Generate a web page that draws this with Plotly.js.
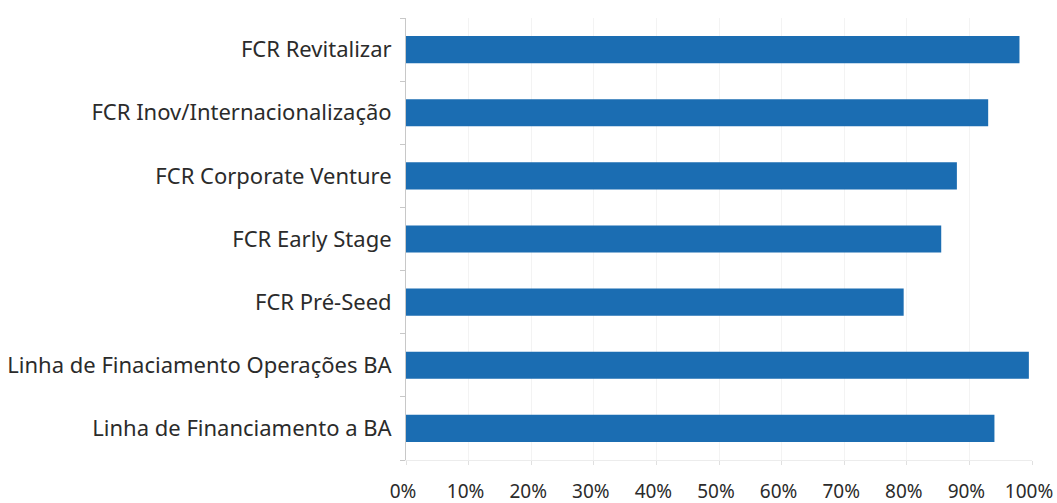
<!DOCTYPE html>
<html>
<head>
<meta charset="utf-8">
<script src="https://cdn.plot.ly/plotly-3.0.1.min.js"></script>
<style>html,body{margin:0;padding:0;background:#fff;}#chart{width:1057px;height:503px;}</style>
</head>
<body>
<div id="chart"></div>
<script>
const categories = [
  "Linha de Financiamento a BA",
  "Linha de Finaciamento Operações BA",
  "FCR Pré-Seed",
  "FCR Early Stage",
  "FCR Corporate Venture",
  "FCR Inov/Internacionalização",
  "FCR Revitalizar"
];
const values = [0.94, 0.995, 0.795, 0.855, 0.88, 0.93, 0.98];
const tickVals = [0, 0.1, 0.2, 0.3, 0.4, 0.5, 0.6, 0.7, 0.8, 0.9, 1.0];
const tickLabels = ["0%", "10%", "20%", "30%", "40%", "50%", "60%", "70%", "80%", "90%", "100%"];

const trace = {
  type: "bar",
  orientation: "h",
  x: values,
  y: categories,
  marker: {color: "#1b6db2"},
  hoverinfo: "x+y"
};

const layout = {
  width: 1057, height: 503,
  margin: {l: 406, r: 25, t: 18, b: 43},
  paper_bgcolor: "#ffffff",
  plot_bgcolor: "#ffffff",
  showlegend: false,
  bargap: 0.57,
  font: {family: "Noto Sans, Open Sans, sans-serif", color: "#2b2b2b", size: 22},
  xaxis: {
    range: [0, 1.0],
    tickvals: tickVals,
    ticktext: tickLabels,
    showgrid: true,
    gridcolor: "#f3f3f3",
    zeroline: false,
    showline: true,
    linecolor: "#ececec",
    ticks: "outside",
    ticklen: 4,
    tickcolor: "#e0e0e0",
    ticklabelstandoff: 10,
    ticklabelshift: -3,
    tickfont: {size: 19, color: "#2b2b2b"},
    fixedrange: true
  },
  yaxis: {
    type: "category",
    categoryorder: "array",
    categoryarray: categories,
    showgrid: false,
    zeroline: false,
    showline: true,
    linecolor: "#c8c8c8",
    ticks: "outside",
    tickson: "boundaries",
    ticklen: 5,
    tickcolor: "#c8c8c8",
    ticklabelstandoff: 9,
    tickfont: {size: 22, color: "#2b2b2b"},
    fixedrange: true
  }
};

Plotly.newPlot("chart", [trace], layout, {displayModeBar: false, staticPlot: true});
</script>
</body>
</html>
